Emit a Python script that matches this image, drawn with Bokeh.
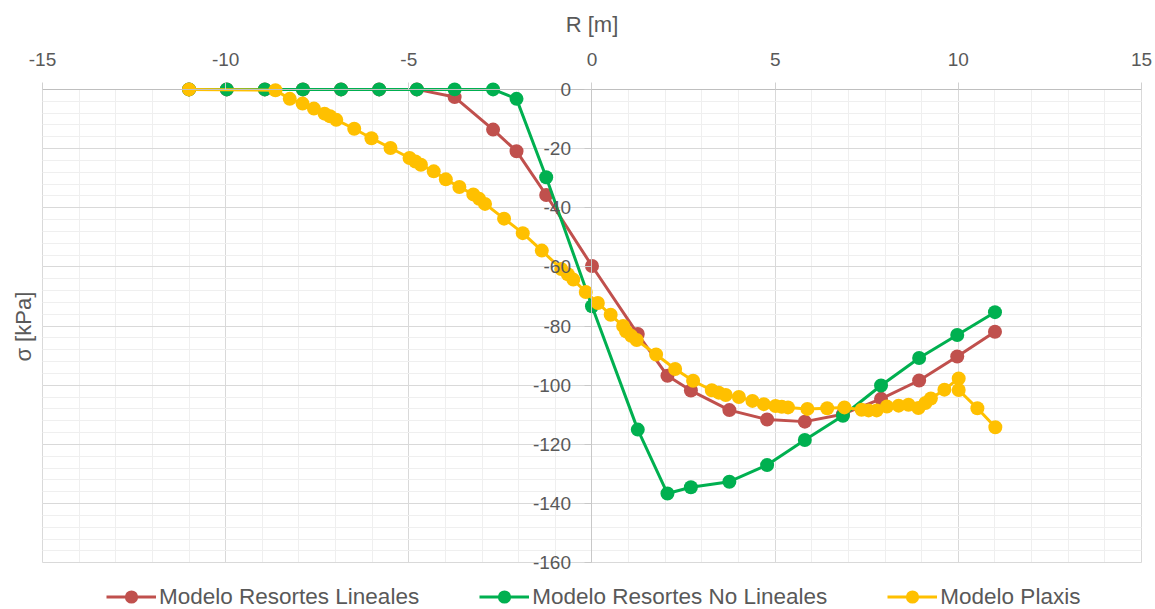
import math
from bokeh.plotting import figure
from bokeh.layouts import column
from bokeh.models import (Range1d, SingleIntervalTicker, Legend, LegendItem, Label, PrintfTickFormatter)
from bokeh.embed import file_html
from bokeh.resources import INLINE

# ---- data ----
r_modelo = [-11.0, -9.97, -8.93, -7.89, -6.85, -5.81, -4.78, -3.75, -2.70, -2.06, -1.25, 0.0,
            1.25, 2.06, 2.70, 3.75, 4.78, 5.81, 6.85, 7.89, 8.93, 9.97, 11.0]
sigma_lineales = [0, 0, 0, 0, 0, 0, 0, -2.6, -13.6, -20.9, -35.7, -59.7,
                  -82.7, -96.8, -101.8, -108.4, -111.6, -112.3, -109.8, -104.6, -98.4, -90.3, -81.9]
sigma_no_lineales = [0, 0, 0, 0, 0, 0, 0, 0, 0, -3.2, -29.7, -73.3,
                     -115.0, -136.6, -134.5, -132.6, -127.0, -118.5, -110.3, -100.1, -90.8, -83.0, -75.3]

r_plaxis = [-11.0, -8.64, -8.25, -7.90, -7.59, -7.30, -7.15, -6.98, -6.49, -6.02, -5.50, -4.98,
            -4.82, -4.67, -4.32, -3.99, -3.62, -3.24, -3.08, -2.92, -2.40, -1.89, -1.37, -0.84,
            -0.66, -0.51, -0.17, 0.16, 0.51, 0.85, 0.93, 1.07, 1.22, 1.75, 2.27, 2.76, 3.27,
            3.46, 3.65, 4.01, 4.38, 4.69, 5.01, 5.18, 5.35, 5.88, 6.42, 6.89, 7.36, 7.55, 7.77,
            8.05, 8.37, 8.64, 8.91, 9.10, 9.25, 9.62, 10.01, 10.01, 10.52, 11.01]
sigma_plaxis = [0, -0.3, -3.2, -4.8, -6.5, -8.2, -9.1, -10.3, -13.3, -16.5, -19.8, -23.2,
                -24.4, -25.5, -27.7, -30.4, -33.0, -35.5, -37.0, -38.7, -43.7, -48.6, -54.5, -60.7,
                -62.5, -64.3, -68.5, -72.2, -76.2, -80.0, -81.8, -83.3, -84.7, -89.6, -94.5, -98.5, -101.7,
                -102.5, -103.3, -104.0, -105.3, -106.4, -107.0, -107.3, -107.5, -108.0, -107.8, -107.5, -108.3, -108.5, -108.5,
                -107.2, -106.9, -106.6, -107.7, -106.0, -104.5, -101.5, -97.7, -101.6, -107.8, -114.2]

series_names = ["Modelo Resortes Lineales", "Modelo Resortes No Lineales", "Modelo Plaxis"]
series_colors = ["#C0504D", "#00B050", "#FFC000"]
x_title = "R [m]"
y_title = "σ [kPa]"
x_axis_range = (-15, 15)
y_axis_range = (-160, 0)

TXT = "#595959"
FONT = "Liberation Sans"

# ranges padded so that the axes (drawn inside the frame at x=0 / y=0) keep their labels visible
p = figure(width=1155, height=581, output_backend="svg", toolbar_location=None,
           x_range=Range1d(-15.90, 15.30), y_range=Range1d(-166, 27),
           x_axis_location="above", min_border_left=9, min_border_right=3,
           min_border_top=9, min_border_bottom=1)
p.outline_line_color = None
p.background_fill_color = "white"
p.border_fill_color = "white"

# x axis, fixed at y = 0
xa = p.xaxis[0]
xa.fixed_location = 0
xa.bounds = x_axis_range
xa.ticker = SingleIntervalTicker(interval=5, num_minor_ticks=5)
xa.formatter = PrintfTickFormatter(format="%d")
xa.axis_label = x_title
xa.axis_label_text_font = FONT
xa.axis_label_text_font_size = "22px"
xa.axis_label_text_font_style = "normal"
xa.axis_label_text_color = TXT
xa.axis_label_standoff = 14
xa.major_label_text_font = FONT
xa.major_label_text_font_size = "19px"
xa.major_label_text_color = TXT
xa.major_label_standoff = 16
xa.axis_line_color = "#bfbfbf"
xa.major_tick_line_color = "#d0d0d0"
xa.major_tick_out = 7
xa.major_tick_in = 0
xa.minor_tick_line_color = None

# y axis, fixed at x = 0
ya = p.yaxis[0]
ya.fixed_location = 0
ya.bounds = y_axis_range
ya.ticker = SingleIntervalTicker(interval=20, num_minor_ticks=5)
ya.formatter = PrintfTickFormatter(format="%d")
ya.major_label_text_font = FONT
ya.major_label_text_font_size = "19px"
ya.major_label_text_color = TXT
ya.major_label_standoff = 14
ya.axis_line_color = "#c8c8c8"
ya.major_tick_line_color = "#c8c8c8"
ya.major_tick_out = 7
ya.major_tick_in = 0
ya.minor_tick_line_color = None

# y title at the left edge of the chart
p.add_layout(Label(x=-15.52, y=-80.2, text=y_title, angle=math.pi / 2,
                   text_align="center", text_baseline="middle", text_font=FONT,
                   text_font_size="22px", text_color=TXT))

xg, yg = p.xgrid[0], p.ygrid[0]
xg.bounds = x_axis_range
yg.bounds = y_axis_range
try:
    xg.cross_bounds = y_axis_range
    yg.cross_bounds = x_axis_range
except AttributeError:
    pass
for g in (xg, yg):
    g.grid_line_color = "#d9d9d9"
    g.minor_grid_line_color = "#efefef"
    g.grid_line_width = 1
    g.minor_grid_line_width = 1

# series
series = [(r_modelo, sigma_lineales), (r_modelo, sigma_no_lineales), (r_plaxis, sigma_plaxis)]
for (xs, ys), color in zip(series, series_colors):
    p.line(xs, ys, line_color=color, line_width=3)
    p.scatter(xs, ys, size=14, fill_color=color, line_color=color, line_width=0)

# legend strip: a small figure whose ranges exclude the data, so only the legend keys show
lf = figure(width=1155, height=28, output_backend="svg", toolbar_location=None,
            x_range=Range1d(100, 101), y_range=Range1d(100, 101),
            min_border_left=0, min_border_right=0, min_border_top=0, min_border_bottom=0)
lf.axis.visible = False
lf.grid.visible = False
lf.outline_line_color = None
lf.border_fill_color = "white"
items = []
for (xs, ys), name, color in zip(series, series_names, series_colors):
    ln = lf.line(xs, ys, line_color=color, line_width=3)
    sc = lf.scatter(xs, ys, size=14, fill_color=color, line_color=color, line_width=0)
    items.append(LegendItem(label=name, renderers=[ln, sc]))
legend = Legend(items=items, orientation="horizontal", location=(97, -4),
                label_text_font=FONT, label_text_font_size="22.5px", label_text_color=TXT,
                glyph_width=50, glyph_height=33, label_standoff=3, spacing=60,
                padding=0, margin=0, border_line_color=None, background_fill_alpha=0)
lf.add_layout(legend, "center")

layout = column(p, lf, spacing=0)
open("out.html", "w").write(file_html(layout, INLINE))
